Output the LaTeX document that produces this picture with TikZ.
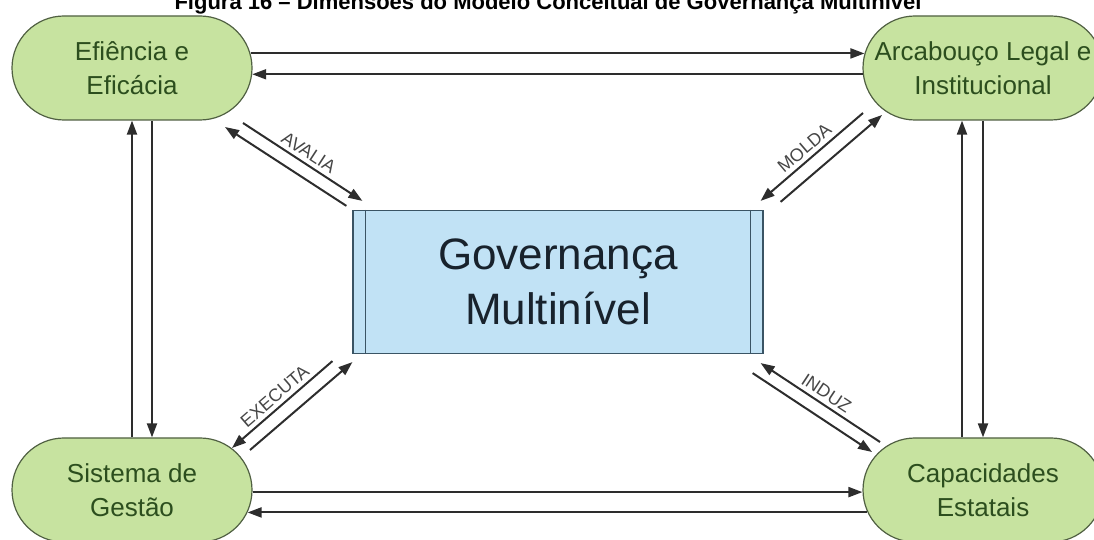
\documentclass[tikz,border=0pt]{standalone}
\usepackage{fontspec}
\setmainfont{Liberation Sans}
\usetikzlibrary{shapes.misc,arrows.meta}
\definecolor{dimfill}{RGB}{199,227,160}
\definecolor{dimline}{RGB}{80,96,66}
\definecolor{dimtext}{RGB}{44,78,30}
\definecolor{govfill}{RGB}{193,226,245}
\definecolor{govline}{RGB}{58,84,100}
\definecolor{govtext}{RGB}{24,34,44}
\definecolor{relline}{RGB}{45,45,45}
\definecolor{verbtext}{RGB}{70,70,70}
\tikzset{
  dim/.style={rounded rectangle, draw=dimline, fill=dimfill, line width=1.2pt,
    minimum width=240pt, minimum height=104pt, inner sep=0pt, align=center,
    text=dimtext, font=\fontsize{26}{34}\selectfont},
  gov/.style={rectangle, draw=govline, fill=govfill, line width=1.2pt,
    minimum width=410pt, minimum height=143pt, align=center,
    text=govtext, font=\fontsize{44}{55}\selectfont},
  rel/.style={draw=relline, line width=2pt},
  verb/.style={sloped, above, inner sep=4pt, text=verbtext,
    font=\fontsize{18}{18}\selectfont},
  titulo/.style={anchor=base, font=\bfseries\fontsize{22}{22}\selectfont}
}
\begin{document}
\begin{tikzpicture}[x=1pt, y=1pt, >={Triangle[length=14pt,width=10pt]}]
  \useasboundingbox (0,0) rectangle (1094,540);

  \newcommand\X{851}
  \newcommand\Y{422}

  % titulo (cortado no topo)
  \node[titulo] (tit) at (548, 530) {Figura 16 -- Dimensões do Modelo Conceitual de Governança Multinível};

  % dimensoes
  \node[dim] (efi) at (132+0*\X, 50+1*\Y) {Efiência e\\Eficácia};
  \node[dim] (arc) at (132+1*\X, 50+1*\Y) {\makebox[0pt]{Arcabouço Legal e}\\Institucional};
  \node[dim] (ges) at (132+0*\X, 50+0*\Y) {Sistema de\\Gestão};
  \node[dim] (cap) at (132+1*\X, 50+0*\Y) {Capacidades\\Estatais};

  % centro
  \node[gov] (gov) at (558, 258) {Governança\\Multinível};
  \draw[rel, draw=govline, line width=1.2pt] ([xshift=13pt]gov.north west) -- ([xshift=13pt]gov.south west);
  \draw[rel, draw=govline, line width=1.2pt] ([xshift=-13pt]gov.north east) -- ([xshift=-13pt]gov.south east);

  % horizontais
  \draw[rel, ->] (efi.7) -- (arc.173); % efi->arc
  \draw[rel, <-] (efi.-3) -- (arc.183); % efi<-arc
  \draw[rel, ->] (ges.-1) -- (cap.181); % ges->cap
  \draw[rel, <-] (ges.-11) -- (cap.191); % ges<-cap

  % verticais
  \draw[rel, ->] (ges.north) -- (ges.north |- efi.south);
  \draw[rel, <-] ([xshift=20pt]ges.north) -- ([xshift=20pt]ges.north |- efi.south);
  \draw[rel, ->] ([xshift=-21pt]cap.north) -- ([xshift=-21pt]cap.north |- arc.south);
  \draw[rel, <-] (cap.north) -- (cap.north |- arc.south);

  % diagonais
  \draw[rel, ->] ([shift={(-6pt,4pt)}]gov.north west) -- ([shift={(93pt,-59pt)}]efi.center);
  \draw[rel, ->] ([shift={(111pt,-55pt)}]efi.center) -- node[verb]{AVALIA} ([shift={(10pt,9pt)}]gov.north west);

  \draw[rel, ->] ([shift={(-120pt,-45pt)}]arc.center) -- node[verb]{MOLDA} ([shift={(-3pt,9pt)}]gov.north east);
  \draw[rel, ->] ([shift={(17pt,8pt)}]gov.north east) -- ([shift={(-101pt,-47pt)}]arc.center);

  \draw[rel, ->] ([shift={(-20pt,-7pt)}]gov.south west) -- node[verb]{EXECUTA} ([shift={(100pt,42pt)}]ges.center);
  \draw[rel, ->] ([shift={(118pt,40pt)}]ges.center) -- ([shift={(0pt,-8pt)}]gov.south west);

  \draw[rel, ->] ([shift={(-103pt,48pt)}]cap.center) -- node[verb]{INDUZ} ([shift={(-3pt,-9pt)}]gov.south east);
  \draw[rel, ->] ([shift={(-11pt,-19pt)}]gov.south east) -- ([shift={(-111pt,38pt)}]cap.center);

\end{tikzpicture}
\end{document}
